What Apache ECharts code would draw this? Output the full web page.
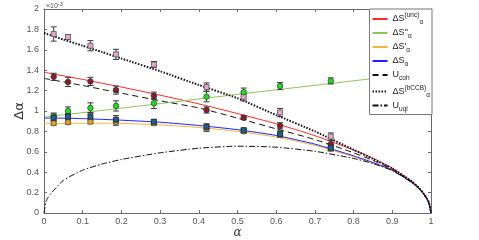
<!DOCTYPE html>
<html>
<head>
<meta charset="utf-8">
<script src="https://cdn.jsdelivr.net/npm/echarts@6/dist/echarts.min.js"></script>
<style>html,body{margin:0;padding:0;background:#fff;}#c{width:479px;height:240px;}</style>
</head>
<body>
<div id="c"></div>
<script>
// ---- curve data (alpha grid and read values, units of 1e-3) ----
const alphaGrid = [0,0.005,0.01,0.02,0.05,0.1,0.15,0.2,0.3,0.4,0.5,0.6,0.7,0.8,0.85,0.9,0.95,0.97,0.98,0.99,0.995,1];
const dsUnc   = [1.38,1.377,1.373,1.366,1.345,1.31,1.272,1.235,1.155,1.07,0.975,0.875,0.758,0.618,0.538,0.44,0.312,0.243,0.198,0.14,0.099,0];
const dsP     = [0.875,0.875,0.876,0.876,0.878,0.88,0.88,0.878,0.865,0.838,0.8,0.745,0.663,0.552,0.49,0.418,0.3,0.235,0.19,0.135,0.095,0];
const dsA     = [0.93,0.93,0.93,0.93,0.93,0.925,0.918,0.91,0.89,0.858,0.817,0.76,0.675,0.56,0.495,0.42,0.3,0.235,0.19,0.135,0.095,0];
const uCoh    = [1.32,1.316,1.313,1.306,1.285,1.25,1.212,1.175,1.1,1.03,0.93,0.825,0.72,0.59,0.515,0.43,0.305,0.238,0.194,0.137,0.097,0];
const dsBCCB  = [1.765,1.758,1.752,1.74,1.70,1.64,1.578,1.515,1.39,1.255,1.125,0.96,0.8,0.62,0.53,0.435,0.31,0.242,0.196,0.139,0.098,0];
const uUql    = [0,0.11,0.15,0.2,0.32,0.42,0.48,0.525,0.59,0.635,0.655,0.645,0.605,0.535,0.485,0.415,0.3,0.235,0.19,0.135,0.095,0];
const ppAlpha = [0,0.25,0.5,0.75,1];
const dsPP    = [0.94,1.05,1.163,1.274,1.385];

// ---- measured points ----
const ptAlpha  = [0.025,0.062,0.12,0.186,0.284,0.42,0.516,0.61,0.741];
const ptBCCB   = [1.755,1.725,1.64,1.555,1.455,1.235,1.14,0.985,0.75];
const errBCCB  = [0.07,0.025,0.05,0.05,0.03,0.04,0.04,0.04,0.035];
const ptUnc    = [1.335,1.285,1.29,1.205,1.15,1.01,0.935,0.855,0.675];
const errUnc   = [0.035,0.045,0.04,0.04,0.035,0.03,0.02,0.03,0.035];
const ptPP     = [0.945,1.0,1.03,1.05,1.075,1.14,1.185,1.245,1.295];
const errPP    = [0.035,0.04,0.05,0.05,0.05,0.05,0.04,0.035,0.03];
const ptA      = [0.935,0.945,0.945,0.915,0.895,0.845,0.812,0.775,0.64];
const errA     = [0.035,0.03,0.04,0.04,0.02,0.03,0.02,0.03,0.03];
const ptP      = [0.88,0.89,0.895,0.89,0.88,0.83,0.8,0.765,0.63];
const errP     = [0.02,0.02,0.02,0.03,0.02,0.03,0.02,0.02,0.02];

const xTicks = {min:0, max:1, interval:0.1};
const yTicks = {min:0, max:2, interval:0.2};

function pairs(xs, ys){ return xs.map((x,i)=>[x, ys[i]]); }
function triples(xs, ys, es){ return xs.map((x,i)=>[x, ys[i], es[i]]); }

const chart = echarts.init(document.getElementById('c'), null, {renderer:'canvas'});

function lineSeries(name, xs, ys, color, width, type){
  return {name:name, type:'line', data:pairs(xs, ys), showSymbol:false, symbol:'none',
    smooth:0.2, lineStyle:{color:color, width:width, type:type}, itemStyle:{color:color},
    animation:false, silent:true, z:2};
}
function errSeries(xs, ys, es){
  return {type:'custom', data:triples(xs, ys, es), encode:{x:0,y:1}, animation:false, silent:true, z:3,
    renderItem:function(params, api){
      const x=api.value(0), y=api.value(1), e=api.value(2);
      const t=api.coord([x,y+e]), b=api.coord([x,y-e]);
      const w=3, st={stroke:'#3a3a3a', lineWidth:1};
      return {type:'group', children:[
        {type:'line', shape:{x1:t[0],y1:t[1],x2:b[0],y2:b[1]}, style:st},
        {type:'line', shape:{x1:t[0]-w,y1:t[1],x2:t[0]+w,y2:t[1]}, style:st},
        {type:'line', shape:{x1:b[0]-w,y1:b[1],x2:b[0]+w,y2:b[1]}, style:st}
      ]};
    }};
}
function markSeries(xs, ys, symbol, size, fill, border){
  return {type:'scatter', data:pairs(xs, ys), symbol:symbol, symbolSize:size, animation:false, silent:true, z:4,
    itemStyle:{color:fill, borderColor:border, borderWidth:0.8, opacity:1}};
}

const legendText = {
  'unc':  '{m|ΔS}{sup|(unc)}{sub|α}',
  'pp':   "{m|ΔS''}{sub|α}",
  'p':    "{m|ΔS'}{sub|α}",
  'a':    '{m|ΔS}{sub|α}',
  'coh':  '{m|U}{sub|coh}',
  'bccb': '{m|ΔS}{sup|(bCCB)}{sub|α}',
  'uql':  '{m|U}{sub|uql}'
};

const option = {
  backgroundColor:'#fff',
  animation:false,
  grid:{left:44, right:48, top:9, bottom:27, containLabel:false, outerBoundsMode:'none'},
  xAxis:[
    {type:'value', min:xTicks.min, max:xTicks.max, interval:xTicks.interval, position:'bottom',
     name:'α', nameLocation:'middle', nameGap:14, nameMoveOverlap:false,
     nameTextStyle:{fontSize:12, fontStyle:'italic', color:'#333', fontFamily:'DejaVu Serif'},
     axisLine:{show:true, onZero:false, lineStyle:{color:'#6a6a6a', width:1}},
     axisTick:{show:true, inside:true, length:3, lineStyle:{color:'#6a6a6a'}},
     axisLabel:{show:true, color:'#555', fontSize:9, margin:4, fontFamily:'Liberation Sans'},
     splitLine:{show:false}},
    {type:'value', min:xTicks.min, max:xTicks.max, interval:xTicks.interval, position:'top',
     axisLine:{show:true, onZero:false, lineStyle:{color:'#6a6a6a', width:1}},
     axisTick:{show:true, inside:true, length:3, lineStyle:{color:'#6a6a6a'}},
     axisLabel:{show:false}, splitLine:{show:false}}
  ],
  yAxis:[
    {type:'value', min:yTicks.min, max:yTicks.max, interval:yTicks.interval, position:'left',
     name:'Δα', nameLocation:'middle', nameGap:18, nameRotate:90, nameMoveOverlap:false,
     nameTextStyle:{fontSize:13, color:'#333', fontFamily:'DejaVu Sans'},
     axisLine:{show:true, onZero:false, lineStyle:{color:'#6a6a6a', width:1}},
     axisTick:{show:true, inside:true, length:3, lineStyle:{color:'#6a6a6a'}},
     axisLabel:{show:true, color:'#555', fontSize:9, margin:5, fontFamily:'Liberation Sans'},
     splitLine:{show:false}},
    {type:'value', min:yTicks.min, max:yTicks.max, interval:yTicks.interval, position:'right',
     axisLine:{show:true, onZero:false, lineStyle:{color:'#6a6a6a', width:1}},
     axisTick:{show:true, inside:true, length:3, lineStyle:{color:'#6a6a6a'}},
     axisLabel:{show:false}, splitLine:{show:false}}
  ],
  legend:{
    data:['unc','pp','p','a','coh','bccb','uql'],
    orient:'vertical', right:47, top:9, itemWidth:15, itemHeight:8, itemGap:2.5,
    padding:[3,2,2,2], backgroundColor:'#fff', borderColor:'#777', borderWidth:1, borderRadius:0,
    selectedMode:false, z:10,
    itemStyle:{opacity:0, borderWidth:0},
    lineStyle:{opacity:1},
    formatter:function(n){ return legendText[n]; },
    textStyle:{color:'#222', fontFamily:'Liberation Sans',
      rich:{
        m:{fontSize:9, lineHeight:14, verticalAlign:'middle', color:'#222'},
        sup:{fontSize:6.5, lineHeight:7, verticalAlign:'top', color:'#222'},
        sub:{fontSize:6.5, lineHeight:7, verticalAlign:'bottom', color:'#222'}
      }}
  },
  graphic:[
    {type:'text', left:46, top:1, style:{text:'{a|×10}{b|-3}', fill:'#555',
      rich:{a:{fontSize:7, lineHeight:9, verticalAlign:'bottom', fill:'#555'}, b:{fontSize:5.5, lineHeight:9, verticalAlign:'top', fill:'#555'}}}}
  ],
  series:[
    lineSeries('unc', alphaGrid, dsUnc, '#ff2a2a', 1, 'solid'),
    lineSeries('pp', ppAlpha, dsPP, '#8fc25a', 1, 'solid'),
    lineSeries('p', alphaGrid, dsP, '#f3b63a', 1, 'solid'),
    lineSeries('a', alphaGrid, dsA, '#2020ff', 1, 'solid'),
    lineSeries('coh', alphaGrid, uCoh, '#111', 1, [6,4]),
    lineSeries('bccb', alphaGrid, dsBCCB, '#111', 2, [1.5,1.5]),
    lineSeries('uql', alphaGrid, uUql, '#111', 1, [6,2,1.5,2]),
    errSeries(ptAlpha, ptBCCB, errBCCB),
    errSeries(ptAlpha, ptUnc, errUnc),
    errSeries(ptAlpha, ptPP, errPP),
    errSeries(ptAlpha, ptP, errP),
    errSeries(ptAlpha, ptA, errA),
    markSeries(ptAlpha, ptBCCB, 'rect', 5, '#e8a6cc', '#555'),
    markSeries(ptAlpha, ptUnc, 'circle', 5.5, '#8c1a2e', '#333'),
    markSeries(ptAlpha, ptPP, 'circle', 5.5, '#22dd22', '#2a4a2a'),
    markSeries(ptAlpha, ptP, 'circle', 5.5, '#d9a21a', '#555'),
    markSeries(ptAlpha, ptA, 'rect', 5, '#1f5f96', '#222')
  ]
};
chart.setOption(option);
</script>
</body>
</html>
